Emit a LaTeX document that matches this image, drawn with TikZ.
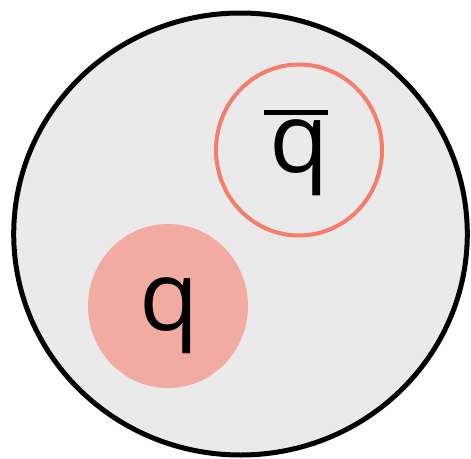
\documentclass[tikz,border=0pt]{standalone}
\usepackage{fontspec}
\setmainfont{Open Sans}
\usepackage{xcolor}
\usepackage{tikz}
\usetikzlibrary{calc, positioning}

\definecolor{mesonGray}{HTML}{EAEAEA}
\definecolor{quarkFill}{HTML}{F1ABA0}
\definecolor{antiLine}{HTML}{F57D69}

\tikzset{
    quarklabel/.style={inner sep=0pt, anchor=base, font=\fontsize{97}{100}\selectfont}
}

% q with a bar over it
\newcommand{\antiq}{\setbox0\hbox{q}\hbox to \wd0{\hss\rule[57pt]{64pt}{5pt}\hss\kern 7pt}\kern-\wd0\box0}

\begin{document}
\begin{tikzpicture}[x=1pt, y=-1pt]

    % =================================================================
    % 1. KHUNG VA TOA DO
    % =================================================================
    \useasboundingbox (0,0) rectangle (471,458);
    \coordinate (M) at (240.5,234);
    \coordinate (Q) at (168,306);
    \coordinate (AQ) at (299,150);

    % =================================================================
    % 2. HAT MESON
    % =================================================================
    \draw[line width=5pt, fill=mesonGray] (M) ellipse [x radius=226.8, y radius=221];

    % =================================================================
    % 3. QUARK VA PHAN QUARK
    % =================================================================
    \fill[quarkFill] (Q) ellipse [x radius=80, y radius=82];
    \draw[line width=4pt, antiLine] (AQ) ellipse [x radius=83, y radius=85.5];

    \node[quarklabel] (q) at (169,330) {q};
    \node[quarklabel] (qbar) at (299.5,172) {\antiq};

\end{tikzpicture}
\end{document}
